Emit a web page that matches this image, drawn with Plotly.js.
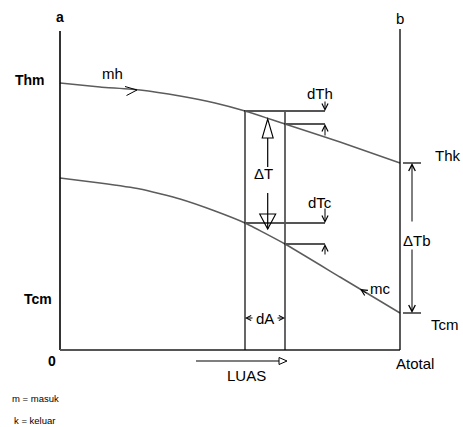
<!DOCTYPE html>
<html><head><meta charset="utf-8">
<script src="https://cdn.plot.ly/plotly-3.0.1.min.js"></script>
<style>body{margin:0;background:#fff}#chart{width:463px;height:427px}</style>
</head><body><div id="chart"></div>
<script>
// Luas (area) positions along the exchanger, 0 .. Atotal
const areaX = [0, 40, 80, 120, 155, 185, 225, 280, 340];
// Hot fluid temperature (masuk Thm -> keluar Thk)
const hotT = [267, 263, 260, 254, 247, 239, 226, 208, 187];
// Cold fluid temperature
const coldT = [172, 167, 161, 151, 139, 127, 106, 73, 37];
// element dA boundaries (indices in areaX)
const iA1 = 5, iA2 = 6, iEnd = 8;
const footnotes = ["m = masuk", "k = keluar"];

const FONT = "Liberation Sans, Arial, sans-serif";
const curveColor = "#5c5c5c";

const traces = [
  {x: areaX, y: hotT, mode: "lines", line: {color: curveColor, width: 1.5, shape: "spline", smoothing: 0.4}, hoverinfo: "skip"},
  {x: areaX, y: coldT, mode: "lines", line: {color: curveColor, width: 1.5, shape: "spline", smoothing: 0.4}, hoverinfo: "skip"}
];

const xA1 = areaX[iA1], xA2 = areaX[iA2], xEnd = areaX[iEnd];
const xd = xA2 + 40; // dT markers
const xm = (xA1 + xA2) / 2 + 2.7; // ΔT arrow
const xb = xEnd + 12; // ΔTb arrow

function L(x0, y0, x1, y1, color, width) {
  return {type: "line", xref: "x", yref: "y", x0, y0, x1, y1, line: {color: color || "#000", width: width || 1.2}};
}
function P(path, width) {
  return {type: "path", xref: "x", yref: "y", path, line: {color: "#000", width: width || 1}};
}

const shapes = [
  L(0, 0, 0, 319, "#000", 1.6),
  L(0, 0, xEnd, 0, "#555", 2),
  L(xEnd, 0, xEnd, 321, "#000", 1.3),
  L(xA1, 0, xA1, 240, "#000", 1.2),
  L(xA2, 0, xA2, 240, "#000", 1.2),
  L(xA1, hotT[iA1], xd, hotT[iA1], "#555", 2),
  L(xA2, hotT[iA2], xd, hotT[iA2], "#555", 2),
  L(xA1, coldT[iA1], xd, coldT[iA1], "#555", 2),
  L(xA2, coldT[iA2], xd, coldT[iA2], "#555", 2),
  L(xEnd + 3, hotT[iEnd], xEnd + 21, hotT[iEnd], "#333", 1.5),
  L(xEnd + 3, coldT[iEnd], xEnd + 21, coldT[iEnd], "#333", 1.5),
  // ΔT arrows with open triangles
  L(xm, 212, xm, 183, "#000", 1.2),
  P(`M${xm-5.5},212 L${xm},231 L${xm+5.5},212 Z`, 1.1),
  L(xm, 157, xm, 121, "#000", 1.2),
  P(`M${xm-8},136 L${xm+8},136 L${xm},121 Z`, 1.1),
  // LUAS arrow
  L(136, -11, 219, -11, "#000", 1.2),
  P(`M219,-7.5 L227,-11 L219,-14.5 Z`, 1),
  // mh flow chevron
  P(`M65,263.5 L77,260 L66.5,254.5`, 1)
];

function A(x, y, ax, ay, head, size) {
  return {x, y, ax, ay, axref: "x", ayref: "y", xref: "x", yref: "y", text: "", showarrow: true,
    arrowhead: head || 5, arrowsize: size || 1, arrowwidth: 1, arrowcolor: "#000", standoff: 0, startstandoff: 0};
}
function T(x, y, text, size, bold, anchor) {
  return {x, y, xref: "x", yref: "y", text: bold ? "<b>" + text + "</b>" : text, showarrow: false,
    xanchor: anchor || "center", yanchor: "middle", font: {family: FONT, size: size || 15, color: "#000"}};
}

const annotations = [
  A(xd, hotT[iA1], xd, 250, 5, 1.2),
  A(xd, hotT[iA2], xd, 213, 5, 1.2),
  A(xd, coldT[iA1], xd, 143, 5, 1.2),
  A(xd, coldT[iA2], xd, 94, 5, 1.2),
  A(xb, hotT[iEnd], xb, 127, 5, 1.3),
  A(xb, coldT[iEnd], xb, 102, 5, 1.3),
  A(xA1, 32, xA1 + 9, 32, 5, 1),
  A(xA2, 32, xA2 - 9, 32, 5, 1),
  A(300, 61, 308, 56, 5, 1.2),
  T(0, 333, "a", 14, true),
  T(xEnd, 332, "b", 15),
  T(-30, 270, "Thm", 14, true),
  T(-22, 51, "Tcm", 14, true),
  T(-8, -11, "0", 14, true),
  T(52, 277, "mh", 15),
  T(260, 257, "dTh", 15),
  T(260, 148, "dTc", 15),
  T(xm - 4, 177, "ΔT", 15),
  T(388, 195, "Thk", 15),
  T(357, 110, "ΔTb", 15),
  T(320, 62, "mc", 15),
  T(385, 26, "Tcm", 15),
  T((xA1 + xA2) / 2, 32, "dA", 15),
  T(186, -25, "LUAS", 15),
  T(355, -13, "Atotal", 15),
  T(-50, -48, footnotes[0], 9.5, false, "left"),
  T(-48, -70, footnotes[1], 9.5, false, "left")
];

const layout = {
  width: 463, height: 427,
  margin: {l: 0, r: 0, t: 0, b: 0},
  paper_bgcolor: "#fff", plot_bgcolor: "#fff",
  showlegend: false,
  xaxis: {range: [-60, 403], visible: false, fixedrange: true},
  yaxis: {range: [-77, 350], visible: false, fixedrange: true},
  shapes, annotations
};
Plotly.newPlot("chart", traces, layout, {staticPlot: true});
</script></body></html>
